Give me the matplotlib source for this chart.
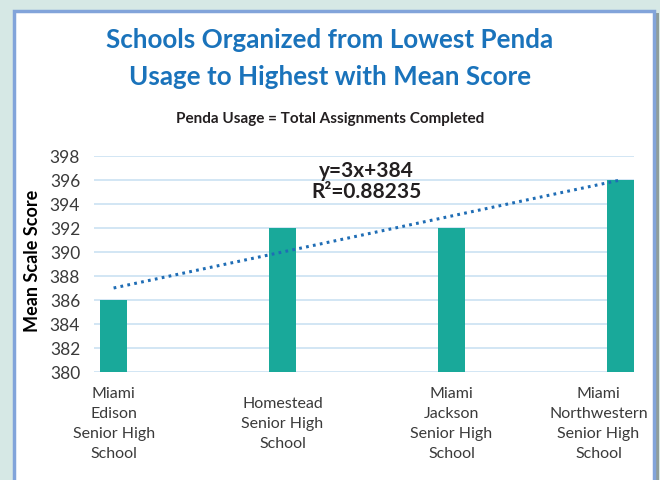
import numpy as np
import matplotlib
matplotlib.use("Agg")
import matplotlib.pyplot as plt
import matplotlib.patches as mpatches
from matplotlib.transforms import ScaledTranslation

# ── data ──────────────────────────────────────────────────────────────────────
schools = [
    "Miami\nEdison\nSenior High\nSchool",
    "Homestead\nSenior High\nSchool",
    "Miami\nJackson\nSenior High\nSchool",
    "Miami\nNorthwestern\nSenior High\nSchool",
]
mean_scores = [386, 392, 392, 396]
y_ticks = [380, 382, 384, 386, 388, 390, 392, 394, 396, 398]

_C = {
    "bar":    "#19a99a",
    "trend":  "#1f6db5",
    "title":  "#1a73bb",
    "grid":   "#d2e6f4",
    "tick":   "#3a3a3a",
    "text":   "#231f20",
    "bg":     "#d6e8e5",
    "border": "#82a4da",
}

plt.rcParams.update({
    "font.family": ["Lato", "DejaVu Sans"],
})

fig = plt.figure(figsize=(6.6, 4.81), dpi=100)
fig.patch.set_facecolor(_C["bg"])

# card with border + shadow
W, H = 660, 481
fig.patches.append(mpatches.Rectangle((16 / W, -0.05), 643 / W, 1.05 - 14 / H,
                                      transform=fig.transFigure, facecolor="#8f9d9b",
                                      edgecolor="none", zorder=0.1))
fig.patches.append(mpatches.Rectangle((13.5 / W, -0.05), 640 / W, 1.05 - 11.5 / H,
                                      transform=fig.transFigure, facecolor="white",
                                      edgecolor=_C["border"], linewidth=2.5, zorder=0.2))

ax = fig.add_axes([94 / W, 1 - 373 / H, 540 / W, 216 / H])
ax.set_zorder(1)
ax.set_facecolor("none")

x = np.arange(len(schools))
ax.bar(x, mean_scores, width=0.16, color=_C["bar"], zorder=3)

# linear trendline (Excel-style, x = 1..n)
xs = x + 1
slope, intercept = np.polyfit(xs, mean_scores, 1)
fit = slope * xs + intercept
ss_res = np.sum((np.array(mean_scores) - fit) ** 2)
ss_tot = np.sum((np.array(mean_scores) - np.mean(mean_scores)) ** 2)
r2 = 1 - ss_res / ss_tot
ax.plot(x, fit, color=_C["trend"], linewidth=2.2, linestyle=(0, (0.9, 1.4)), zorder=4)
ax.text(0.505, 0.885, f"y={slope:.0f}x+{intercept:.0f}\nR²={r2:.5f}",
        transform=ax.transAxes, ha="center", va="center", fontsize=15,
        fontweight="bold", color=_C["text"], linespacing=1.05)

ax.set_ylim(380, 398)
ax.set_xlim(-0.116, 3.08)
ax.set_yticks(y_ticks)
ax.set_xticks(x, schools, va="center", ha="center", linespacing=1.55)
ax.tick_params(axis="x", length=0, pad=37, labelsize=11.5, labelcolor=_C["tick"])
ax.tick_params(axis="y", length=0, pad=10, labelsize=12.5, labelcolor=_C["tick"])
lbl = ax.get_xticklabels()[-1]
lbl.set_transform(lbl.get_transform() + ScaledTranslation(-0.22, 0, fig.dpi_scale_trans))

ax.grid(axis="y", color=_C["grid"], linewidth=1.4, zorder=0)
ax.set_axisbelow(True)
for s in ax.spines.values():
    s.set_visible(False)

ax.set_ylabel("Mean Scale Score", fontsize=13, fontweight="bold", color="black")
ax.yaxis.set_label_coords(-0.098, 0.52)

fig.text(0.5, 1 - 40 / H, "Schools Organized from Lowest Penda", ha="center", va="center",
         fontsize=18.7, fontweight="bold", color=_C["title"], zorder=2)
fig.text(0.5, 1 - 77 / H, "Usage to Highest with Mean Score", ha="center", va="center",
         fontsize=18.7, fontweight="bold", color=_C["title"], zorder=2)
fig.text(0.5, 1 - 119 / H, "Penda Usage = Total Assignments Completed", ha="center",
         va="center", fontsize=11, fontweight="bold", color=_C["text"], zorder=2)

fig.savefig("out.png", dpi=100, facecolor=fig.get_facecolor())
